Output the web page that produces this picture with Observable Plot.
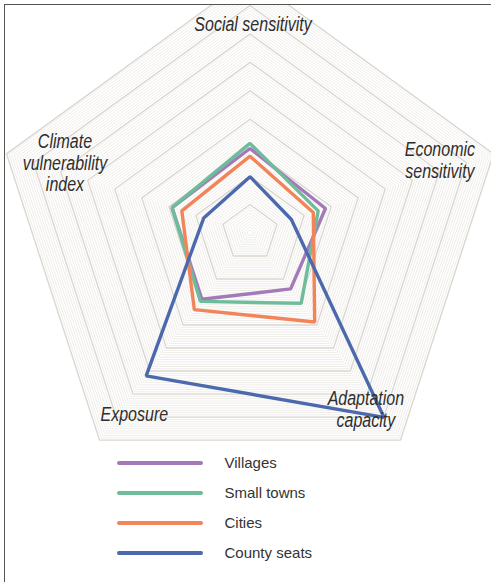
<!DOCTYPE html>
<html>
<head>
<meta charset="utf-8">
<script src="https://cdn.jsdelivr.net/npm/d3@7"></script>
<script src="https://cdn.jsdelivr.net/npm/@observablehq/plot@0.6"></script>
<style>
  html, body { margin: 0; padding: 0; background: #fff; }
  #frame { position: absolute; left: 4px; top: 4px; width: 487px; height: 578px;
           border-left: 1.5px solid #555; border-top: 1.5px solid #555; overflow: hidden; }
  #chart { position: absolute; left: 0; top: 0; }
  #legend { position: absolute; left: 0; top: 440px; width: 487px; height: 138px; }
  .row { position: absolute; left: 0; height: 30px; width: 487px; }
  .sw { position: absolute; left: 111.5px; top: 13px; width: 86px; height: 4px; border-radius: 2px; }
  .lb { position: absolute; left: 219.5px; top: 5px; font-family: "Liberation Sans", Arial, sans-serif;
        font-size: 15px; color: #333; line-height: 20px; }
</style>
</head>
<body>
<div id="frame"><div id="chart"></div><div id="legend"></div></div>
<script>
// ---- data ----
const axes = ["Social sensitivity", "Economic sensitivity", "Adaptation capacity", "Exposure", "Climate vulnerability index"];
const axisLabels = ["Social sensitivity", "Economic\nsensitivity", "Adaptation\ncapacity", "Exposure", "Climate\nvulnerability\nindex"];
const seriesNames = ["Villages", "Small towns", "Cities", "County seats"];
const villages    = [0.33, 0.31, 0.27, 0.32, 0.32];
const smallTowns  = [0.35, 0.28, 0.34, 0.33, 0.32];
const cities      = [0.30, 0.26, 0.43, 0.37, 0.28];
const countySeats = [0.22, 0.17, 0.89, 0.69, 0.19];
const seriesColors = ["#a379b9", "#6dbd9a", "#f2845a", "#4c69ad"];

// ---- layout (page coords) ----
const cx = 250 - 5.5, cy = 233 - 5.5, R = 256;
const angle = i => i * 2 * Math.PI / axes.length;

const seriesValues = [villages, smallTowns, cities, countySeats];
const polyPoints = seriesNames.flatMap((s, k) =>
  axes.map((a, i) => ({series: s, axis: a, x: seriesValues[k][i] * Math.sin(angle(i)), y: seriesValues[k][i] * Math.cos(angle(i))})));

const ringLevels = d3.range(1, 91).map(i => i / 90);
const ringPts = lv => ringLevels.filter(lv).flatMap(r =>
  axes.map((a, i) => ({ring: r, x: r * Math.sin(angle(i)), y: r * Math.cos(angle(i))})));
const minorRings = ringPts((r, j) => (j + 1) % 10 !== 0);
const majorRings = ringPts((r, j) => (j + 1) % 10 === 0);

// label placement (radius as fraction, pixel nudges)
const labelLayout = [{r: 0.815, dx: 3, dy: 0}, {r: 0.78, dx: 0, dy: -11}, {r: 0.85, dx: -12, dy: 0},
                     {r: 0.875, dx: 16, dy: 0}, {r: 0.76, dx: 0, dy: -10}];
const labelData = axes.map((a, i) => ({label: axisLabels[i],
  x: labelLayout[i].r * Math.sin(angle(i)), y: labelLayout[i].r * Math.cos(angle(i)),
  dx: labelLayout[i].dx, dy: labelLayout[i].dy}));

const chart = Plot.plot({
  width: 487, height: 440, margin: 0,
  x: {domain: [-1, 1], range: [cx - R, cx + R], axis: null},
  y: {domain: [-1, 1], range: [cy + R, cy - R], axis: null},
  color: {domain: seriesNames, range: seriesColors},
  style: {background: "transparent", overflow: "hidden"},
  marks: [
    Plot.line(minorRings, {x: "x", y: "y", z: "ring", curve: "linear-closed", stroke: "#ebe8e3", strokeWidth: 0.8}),
    Plot.line(majorRings, {x: "x", y: "y", z: "ring", curve: "linear-closed", stroke: "#dad6d0", strokeWidth: 1.4}),
    Plot.line(polyPoints, {x: "x", y: "y", z: "series", stroke: "series", curve: "linear-closed",
      strokeWidth: 3.4, strokeLinejoin: "miter"}),
    ...labelData.map(d => Plot.text([d], {x: "x", y: "y", text: "label", dx: d.dx, dy: d.dy,
      fontFamily: "Liberation Sans, Arial, sans-serif", fontStyle: "italic",
      fontSize: 20, lineHeight: 1.08, fill: "#2e2e2e", className: "axislabel"}))
  ]
});
// condense the axis labels horizontally around their anchor
chart.querySelectorAll("g.axislabel text").forEach(t => {
  const tr = t.getAttribute("transform") || "";
  t.setAttribute("transform", tr + " scale(0.8,1)");
});
document.getElementById("chart").appendChild(chart);

const legend = document.getElementById("legend");
seriesNames.forEach((s, i) => {
  const row = document.createElement("div");
  row.className = "row";
  row.style.top = (3 + i * 30) + "px";
  row.innerHTML = `<div class="sw" style="background:${seriesColors[i]}"></div><div class="lb">${s}</div>`;
  legend.appendChild(row);
});
</script>
</body>
</html>
